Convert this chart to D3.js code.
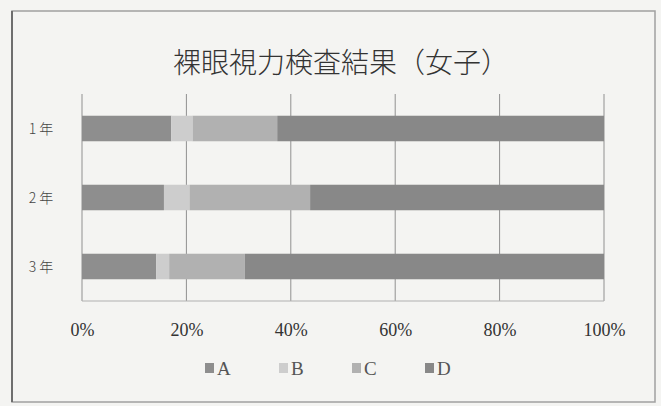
<!DOCTYPE html>
<html>
<head>
<meta charset="utf-8">
<script src="https://cdn.jsdelivr.net/npm/d3@7"></script>
<style>
  body { margin: 0; background: #f4f4f2; }
  svg { display: block; }
</style>
</head>
<body>
<svg id="chart" width="661" height="406"></svg>
<script>
// ── data ──────────────────────────────────────────────
const grades = ["1 年", "2 年", "3 年"];
const series = ["A", "B", "C", "D"];
const valA = [17.1, 15.7, 14.2];
const valB = [4.1, 4.9, 2.5];
const valC = [16.2, 23.1, 14.5];
const valD = [62.6, 56.3, 68.8];
const xTicks = [0, 0.2, 0.4, 0.6, 0.8, 1];

const colors = { A: "#8e8e8e", B: "#cdcdcd", C: "#b1b1b1", D: "#888888" };

const W = 661, H = 406;
const margin = { top: 94, right: 57, bottom: 105, left: 82 };

const svg = d3.select("#chart");

// outer frame
svg.append("rect").attr("x", 12).attr("y", 11).attr("width", 643).attr("height", 391)
  .attr("fill", "#f4f4f2").attr("stroke", "#a0a0a0").attr("stroke-width", 1.5);
svg.append("line").attr("x1", 12).attr("x2", 12).attr("y1", 11).attr("y2", 402)
  .attr("stroke", "#6e6e6e").attr("stroke-width", 2);

// title
svg.append("text").attr("x", 341).attr("y", 73).attr("text-anchor", "middle")
  .style("font-family", "'Noto Sans CJK JP', sans-serif").style("font-weight", 300)
  .style("font-size", "28px").attr("fill", "#333")
  .text("裸眼視力検査結果（女子）");

const rows = grades.map((g, i) => ({ grade: g, A: valA[i], B: valB[i], C: valC[i], D: valD[i] }));
const stacked = d3.stack().keys(series).offset(d3.stackOffsetExpand)(rows);

const x = d3.scaleLinear().domain([0, 1]).range([margin.left, W - margin.right]);
const y = d3.scaleBand().domain(grades).range([margin.top, H - margin.bottom]).paddingInner(0.63).paddingOuter(0.315);

// gridlines
svg.append("g").selectAll("line").data(xTicks).join("line")
  .attr("x1", d => x(d)).attr("x2", d => x(d))
  .attr("y1", margin.top).attr("y2", H - margin.bottom)
  .attr("stroke", "#909090").attr("stroke-width", 1);
svg.append("line").attr("x1", x(0)).attr("x2", x(1))
  .attr("y1", H - margin.bottom).attr("y2", H - margin.bottom)
  .attr("stroke", "#b0b0b0");

// bars
svg.append("g").selectAll("g").data(stacked).join("g")
  .attr("fill", d => colors[d.key])
  .selectAll("rect").data(d => d).join("rect")
  .attr("x", d => x(d[0])).attr("width", d => x(d[1]) - x(d[0]))
  .attr("y", d => y(d.data.grade)).attr("height", y.bandwidth());

// x axis
const xAxis = svg.append("g").attr("transform", `translate(0,${H - margin.bottom})`)
  .call(d3.axisBottom(x).tickValues(xTicks).tickFormat(d3.format(".0%")).tickSize(0).tickPadding(22));
xAxis.select(".domain").remove();
xAxis.selectAll("text")
  .style("font-family", "'Liberation Serif', 'DejaVu Serif', serif")
  .style("font-size", "18px").attr("fill", "#333");

// y axis labels
svg.append("g").selectAll("text").data(grades).join("text")
  .attr("x", 41).attr("y", d => y(d) + y.bandwidth() / 2 + 5)
  .attr("text-anchor", "middle")
  .style("font-family", "'Noto Sans CJK JP', sans-serif").style("font-weight", 300)
  .style("font-size", "14px").attr("fill", "#444")
  .text(d => d);

// legend
const legendX = [205, 279, 352, 425];
const lg = svg.append("g").selectAll("g").data(series).join("g")
  .attr("transform", (d, i) => `translate(${legendX[i]},368)`);
lg.append("rect").attr("x", 0).attr("y", -5).attr("width", 9).attr("height", 10)
  .attr("fill", d => colors[d]);
lg.append("text").attr("x", 12).attr("y", 7)
  .style("font-family", "'Liberation Serif', 'DejaVu Serif', serif").style("font-size", "19px")
  .attr("fill", "#555").text(d => d);
</script>
</body>
</html>
